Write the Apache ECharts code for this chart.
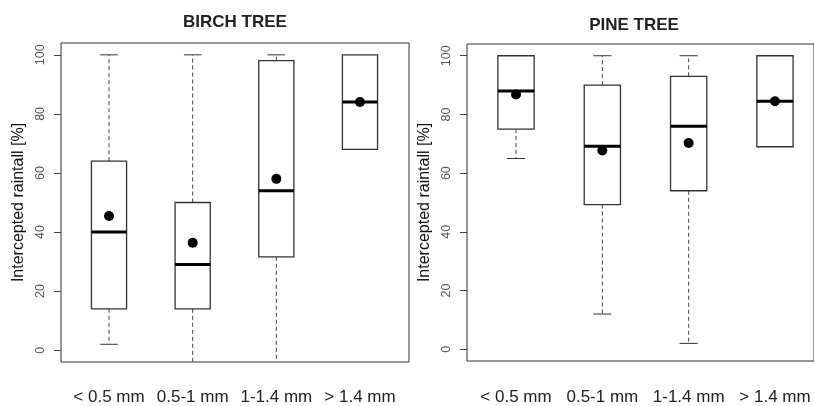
<!DOCTYPE html>
<html>
<head>
<meta charset="utf-8">
<script src="https://cdn.jsdelivr.net/npm/echarts@6/dist/echarts.min.js"></script>
<style>html,body{margin:0;padding:0;background:#fff}#c{width:814px;height:406px}</style>
</head>
<body>
<div id="c"></div>
<script>
const categories = ['< 0.5 mm', '0.5-1 mm', '1-1.4 mm', '> 1.4 mm'];
const yTicks = [0, 20, 40, 60, 80, 100];
// Birch tree: [low whisker, Q1, median, Q3, high whisker] per category
const birchLow = [2, -4, -4, 68];
const birchQ1 = [14, 14, 31.6, 68];
const birchMedian = [40, 29, 54, 84];
const birchQ3 = [64, 50, 98, 100];
const birchHigh = [100, 100, 100, 100];
const birchMean = [45.4, 36.4, 58, 84];
// Pine tree
const pineLow = [65, 12, 2, 69];
const pineQ1 = [75, 49.3, 54, 69];
const pineMedian = [88, 69.2, 76, 84.5];
const pineQ3 = [100, 90, 93, 100];
const pineHigh = [100, 100, 100, 100];
const pineMean = [86.8, 67.7, 70.3, 84.5];

const FONT = 'Liberation Sans, Arial, sans-serif';
const Y_MIN = -4, Y_MAX = 104;

function boxData(low, q1, med, q3, high) {
  return categories.map((c, i) => [i + 1, low[i], q1[i], med[i], q3[i], high[i]]);
}
function meanData(m) { return categories.map((c, i) => [i + 1, m[i]]); }

function renderBox(params, api) {
  const x = api.value(0);
  const lowVal = api.value(1);
  const lo = api.coord([x, lowVal]);
  const q1 = api.coord([x, api.value(2)]);
  const md = api.coord([x, api.value(3)]);
  const q3 = api.coord([x, api.value(4)]);
  const hi = api.coord([x, api.value(5)]);
  const w = api.size([0.42, 0])[0];
  const cx = lo[0];
  const children = [];
  const dash = { stroke: '#444', lineWidth: 1, lineDash: [4, 3] };
  const solid = { stroke: '#333', lineWidth: 1 };
  if (hi[1] < q3[1] - 0.5) {
    children.push({ type: 'line', shape: { x1: cx, y1: q3[1], x2: cx, y2: hi[1] }, style: dash });
    children.push({ type: 'line', shape: { x1: cx - w / 4, y1: hi[1], x2: cx + w / 4, y2: hi[1] }, style: solid });
  }
  if (lo[1] > q1[1] + 0.5) {
    children.push({ type: 'line', shape: { x1: cx, y1: q1[1], x2: cx, y2: lo[1] }, style: dash });
    if (lowVal > Y_MIN) {
      children.push({ type: 'line', shape: { x1: cx - w / 4, y1: lo[1], x2: cx + w / 4, y2: lo[1] }, style: solid });
    }
  }
  children.push({ type: 'rect', shape: { x: cx - w / 2, y: q3[1], width: w, height: q1[1] - q3[1] },
    style: { fill: '#fff', stroke: '#333', lineWidth: 1.3 } });
  children.push({ type: 'line', shape: { x1: cx - w / 2, y1: md[1], x2: cx + w / 2, y2: md[1] },
    style: { stroke: '#000', lineWidth: 3 } });
  return { type: 'group', children: children };
}

function xAxis(gi, min, max, margin) {
  return {
    type: 'value', gridIndex: gi, min: min, max: max,
    axisLine: { show: false }, axisTick: { show: false }, splitLine: { show: false },
    axisLabel: {
      customValues: [1, 2, 3, 4], margin: margin,
      formatter: v => categories[Math.round(v) - 1],
      color: '#222', fontSize: 17, fontFamily: FONT
    }
  };
}
function yAxis(gi) {
  return {
    type: 'value', gridIndex: gi, min: Y_MIN, max: Y_MAX,
    name: 'Intercepted raintall [%]', nameLocation: 'middle', nameRotate: 90, nameGap: 34,
    nameTextStyle: { color: '#111', fontSize: 16, fontFamily: FONT },
    axisLine: { show: false },
    splitLine: { show: false },
    axisTick: { customValues: yTicks, length: 7, lineStyle: { color: '#444' } },
    axisLabel: { customValues: yTicks, rotate: 90, margin: 14, color: '#555', fontSize: 12.5, fontFamily: FONT }
  };
}

const chart = echarts.init(document.getElementById('c'), null, { renderer: 'canvas' });
chart.setOption({
  animation: false,
  backgroundColor: '#fff',
  title: [
    { text: 'BIRCH TREE', left: 235, top: 14, textAlign: 'center', padding: 0,
      textStyle: { fontSize: 17, fontWeight: 'bold', color: '#222', fontFamily: FONT } },
    { text: 'PINE TREE', left: 634, top: 17, textAlign: 'center', padding: 0,
      textStyle: { fontSize: 17, fontWeight: 'bold', color: '#222', fontFamily: FONT } }
  ],
  grid: [
    { left: 61, top: 43, width: 348, height: 319, show: true, borderColor: '#333', borderWidth: 1, backgroundColor: 'transparent' },
    { left: 467, top: 44, width: 347, height: 319, show: true, borderColor: '#333', borderWidth: 1, backgroundColor: 'transparent' }
  ],
  xAxis: [xAxis(0, 0.426, 4.586, 27), xAxis(1, 0.432, 4.452, 28)],
  yAxis: [yAxis(0), yAxis(1)],
  series: [
    { type: 'custom', xAxisIndex: 0, yAxisIndex: 0, renderItem: renderBox, data: boxData(birchLow, birchQ1, birchMedian, birchQ3, birchHigh), z: 2 },
    { type: 'scatter', xAxisIndex: 0, yAxisIndex: 0, data: meanData(birchMean), symbolSize: 10, itemStyle: { color: '#000', opacity: 1 }, z: 3 },
    { type: 'custom', xAxisIndex: 1, yAxisIndex: 1, renderItem: renderBox, data: boxData(pineLow, pineQ1, pineMedian, pineQ3, pineHigh), z: 2 },
    { type: 'scatter', xAxisIndex: 1, yAxisIndex: 1, data: meanData(pineMean), symbolSize: 10, itemStyle: { color: '#000', opacity: 1 }, z: 3 }
  ]
});
</script>
</body>
</html>
